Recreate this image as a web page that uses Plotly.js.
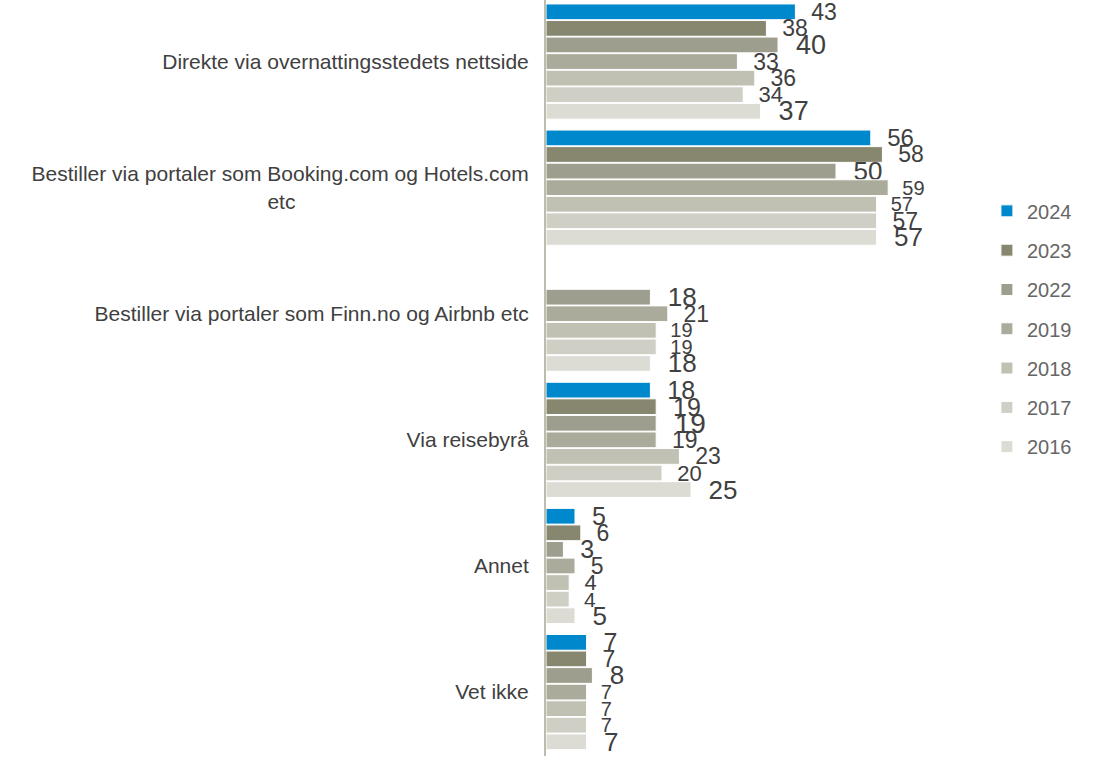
<!DOCTYPE html>
<html>
<head>
<meta charset="utf-8">
<script src="https://cdn.plot.ly/plotly-3.0.1.min.js"></script>
<style>html,body{margin:0;padding:0;background:#fff;}#chart{width:1094px;height:760px;}</style>
</head>
<body>
<div id="chart"></div>
<script>
// ---- data ----
const categories = [
  "Direkte via overnattingsstedets nettside",
  "Bestiller via portaler som Booking.com og Hotels.com<br>etc",
  "Bestiller via portaler som Finn.no og Airbnb etc",
  "Via reisebyrå",
  "Annet",
  "Vet ikke"
];
const years = ["2024", "2023", "2022", "2019", "2018", "2017", "2016"];
const v2024 = [43, 56, null, 18, 5, 7];
const v2023 = [38, 58, null, 19, 6, 7];
const v2022 = [40, 50, 18, 19, 3, 8];
const v2019 = [33, 59, 21, 19, 5, 7];
const v2018 = [36, 57, 19, 23, 4, 7];
const v2017 = [34, 57, 19, 20, 4, 7];
const v2016 = [37, 57, 18, 25, 5, 7];
const seriesValues = [v2024, v2023, v2022, v2019, v2018, v2017, v2016];

// ---- style ----
const FONT = "Liberation Sans, Arial, sans-serif";
const TICK_SIZE = 21;
const colors = ["#0088CC", "#878770", "#9E9E8E", "#ABAB9B", "#C0C0B3", "#CFCFC6", "#DCDCD5"];
const labelSizes = [
  [23, 24, 22, 25, 25, 25],
  [23, 23, 22, 25, 23, 23],
  [27, 26, 26, 28, 25, 26],
  [23, 20, 23, 23, 23, 20],
  [23, 20, 20, 23, 22, 20],
  [22, 23, 20, 22, 21, 20],
  [27, 26, 26, 26, 26, 26]
];

// center the continuation lines of multi-line tick labels (Plotly right-aligns them)
const ctx = document.createElement("canvas").getContext("2d");
ctx.font = TICK_SIZE + "px 'Liberation Sans'";
const nbspW = ctx.measureText("\u00a0").width || TICK_SIZE * 0.278;
const tickLabels = categories.map(c => {
  const lines = c.split("<br>");
  if (lines.length < 2) return c;
  const w0 = ctx.measureText(lines[0]).width;
  return lines.map((ln, k) => {
    if (k === 0) return ln;
    const pad = Math.max(0, Math.round((w0 - ctx.measureText(ln).width) / 2 / nbspW));
    return ln + "\u00a0".repeat(pad);
  }).join("<br>");
});

const traces = years.map((yr, i) => ({
  type: "bar",
  orientation: "h",
  name: yr,
  legendgroup: yr,
  y: categories,
  x: seriesValues[i],
  marker: {color: colors[i], line: {color: "#ffffff", width: 1}},
  text: seriesValues[i].map(v => v === null ? "" : "\u00a0\u00a0" + v),
  textposition: "outside",
  texttemplate: "%{text}",
  cliponaxis: false,
  constraintext: "none",
  textfont: {family: FONT, color: "#404040", size: labelSizes[i]},
  hoverinfo: "x+name"
}));

const layout = {
  width: 1094,
  height: 760,
  margin: {l: 546, r: 200, t: 0, b: 4},
  paper_bgcolor: "#ffffff",
  plot_bgcolor: "#ffffff",
  barmode: "group",
  bargap: 0.08,
  bargroupgap: 0.05,
  font: {family: FONT, color: "#404040"},
  xaxis: {
    range: [0, 60],
    showgrid: false,
    zeroline: false,
    showticklabels: false,
    showline: false,
    ticks: ""
  },
  yaxis: {
    type: "category",
    range: [5.507, -0.488],
    tickmode: "array",
    tickvals: categories,
    ticktext: tickLabels,
    showgrid: false,
    zeroline: false,
    showline: true,
    linecolor: "#BDBDAE",
    linewidth: 2,
    ticks: "",
    ticklabelstandoff: 11,
    tickfont: {size: TICK_SIZE, color: "#404040", family: FONT}
  },
  showlegend: true,
  legend: {
    x: 1.267,
    xanchor: "left",
    y: 0.565,
    yanchor: "middle",
    traceorder: "grouped",
    tracegroupgap: 10.3,
    font: {size: 20, color: "#666666", family: FONT},
    itemwidth: 30,
    bgcolor: "rgba(0,0,0,0)"
  }
};

Plotly.newPlot("chart", traces, layout, {displayModeBar: false, staticPlot: true});
</script>
</body>
</html>
